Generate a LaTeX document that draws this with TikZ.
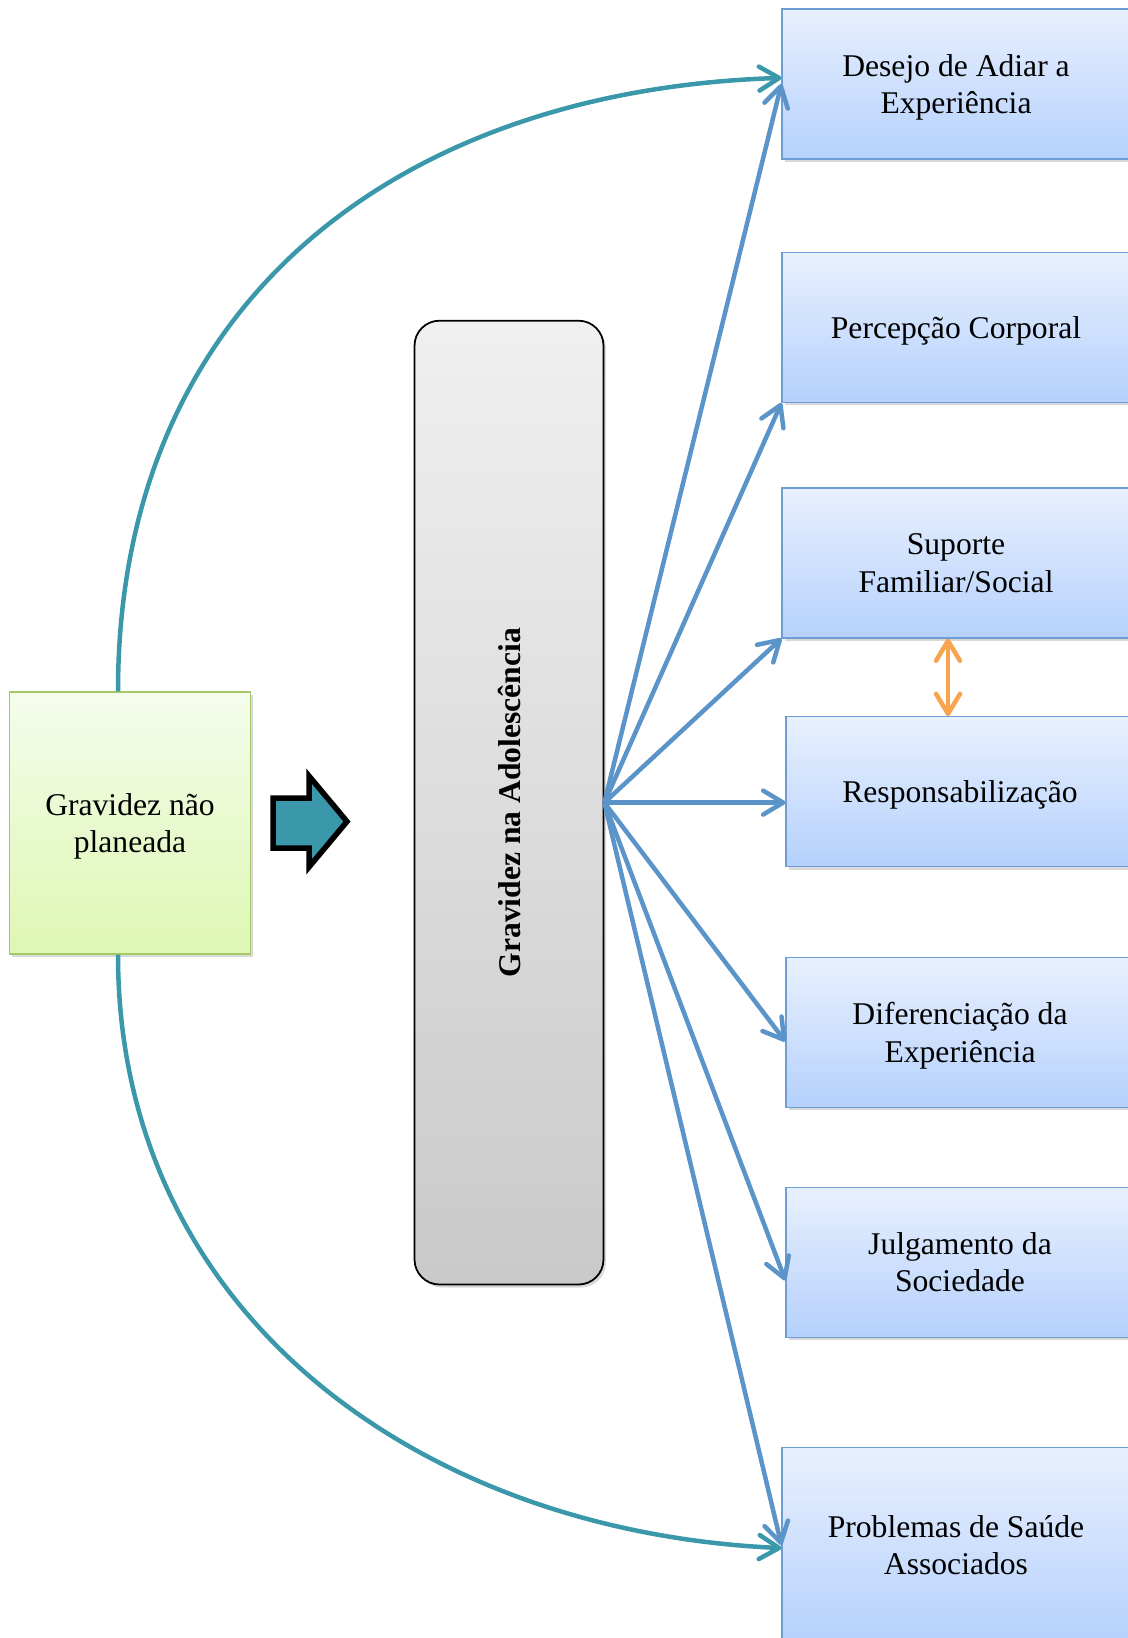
\documentclass[tikz,border=0pt]{standalone}
\usepackage{fontspec}
\setmainfont{Liberation Serif}
\usetikzlibrary{arrows.meta,shadows}
\definecolor{boxline}{RGB}{110,156,212}
\definecolor{bluetop}{RGB}{232,240,254}
\definecolor{bluebot}{RGB}{181,209,252}
\definecolor{greenline}{RGB}{167,200,105}
\definecolor{greentop}{RGB}{245,252,236}
\definecolor{greenbot}{RGB}{222,247,179}
\definecolor{fanblue}{RGB}{91,148,201}
\definecolor{tealc}{RGB}{58,152,170}
\definecolor{orangec}{RGB}{248,163,78}

\begin{document}
\begin{tikzpicture}[x=0.02cm,y=-0.02cm,
    txt/.style={align=center,text depth=0pt,font=\fontsize{18}{21.4}\selectfont},
    shade/.style={drop shadow={opacity=0.3,shadow xshift=0.05cm,shadow yshift=-0.06cm}},
    outbox/.style={txt,shade,draw=boxline,line width=0.7pt,top color=bluetop,bottom color=bluebot,minimum width=6.96cm,minimum height=3cm},
    tip/.style={-{Straight Barb[round,length=0.4cm,width=0.48cm]}},
    fan/.style={draw=fanblue,line width=0.09cm,tip},
    link/.style={draw=tealc,line width=0.09cm,tip}]
    \clip(0,0)rectangle(1128,1638);

    \node[txt,shade,draw=greenline,line width=0.7pt,top color=greentop,bottom color=greenbot,minimum width=4.83cm,minimum height=5.24cm](src)at(130,823){Gravidez não\\planeada};
    \node[shade,draw=black,line width=1pt,rounded corners=0.5cm,top color=black!6,bottom color=black!21,minimum width=3.78cm,minimum height=19.28cm](adol)at(509,802.6){};
    \node[rotate=90,font=\fontsize{18}{21.4}\selectfont\bfseries]at(adol.center){Gravidez na Adolescência};

    \node[outbox](desejo)at(956,84){Desejo de Adiar a\\Experiência};
    \node[outbox](perc)at(956,327.4){Percepção Corporal};
    \node[outbox](sup)at(956,562.9){Suporte\\Familiar/Social};
    \node[outbox](resp)at(960,791.7){Responsabilização};
    \node[outbox](dif)at(960,1032.4){Diferenciação da\\Experiência};
    \node[outbox](julg)at(960,1262.2){Julgamento da\\Sociedade};
    \node[outbox,minimum height=3.9cm](prob)at(956,1545){Problemas de Saúde\\Associados};

    % seta larga
    \draw[line width=0.11cm,line join=miter,fill=tealc](273,798)--(309,798)--(309,776)--(347,821.5)--(309,867)--(309,848)--(273,848)--cycle;

    \draw[fan](adol.east)--(desejo.west);
    \draw[fan](adol.east)--(perc.south west);
    \draw[fan](adol.east)--(sup.south west);
    \draw[fan](adol.east)--(adol.east-|resp.west);
    \draw[fan](adol.east)--(dif.183);
    \draw[fan](adol.east)--(julg.186.5);
    \draw[fan](adol.east)--(prob.west);

    \draw[link]([xshift=-0.24cm]src.north)..controls +(0,-390)and +(-382,12)..(desejo.178);
    \draw[link]([xshift=-0.24cm]src.south)..controls +(0,360)and +(-360,-16)..(prob.181);

    \draw[draw=orangec,line width=0.09cm,{Straight Barb[round,length=0.4cm,width=0.48cm]}-{Straight Barb[round,length=0.4cm,width=0.48cm]}]([xshift=-0.16cm]sup.south)--([xshift=-0.16cm]sup.south|-resp.north);
\end{tikzpicture}
\end{document}
